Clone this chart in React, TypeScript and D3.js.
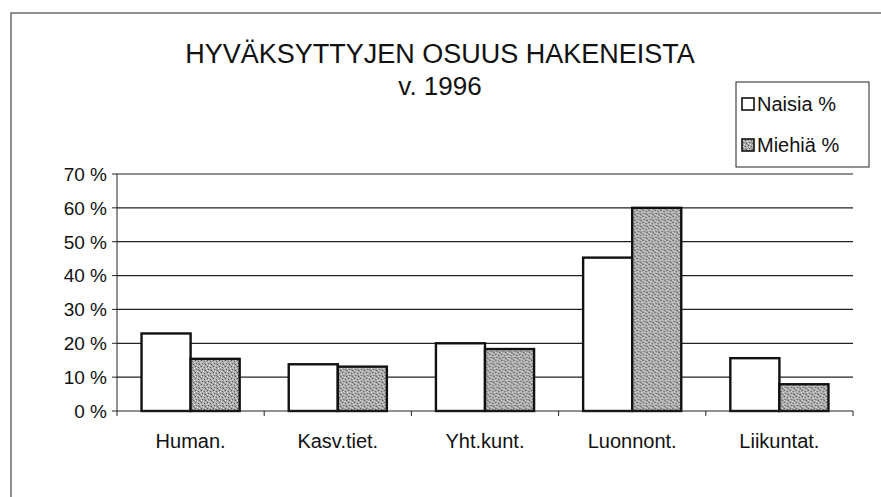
import React from "react";
import * as d3 from "d3";

const categories = ["Human.", "Kasv.tiet.", "Yht.kunt.", "Luonnont.", "Liikuntat."];
const seriesNames = ["Naisia %", "Miehiä %"];
const naisia = [22.9, 13.8, 20.0, 45.3, 15.6];
const miehia = [15.4, 13.1, 18.3, 60.0, 7.9];
const yTicks = [0, 10, 20, 30, 40, 50, 60, 70];

const W = 881;
const H = 497;
const plot = { left: 117, right: 853, top: 174, bottom: 411 };
const FONT = "'Liberation Sans', Arial, Helvetica, sans-serif";

// speckled grey like the scanned dither of the original
const speckle: [number, number, string][] = [
  [0, 0, "#555555"], [3, 1, "#666666"], [1, 3, "#6c6c6c"], [4, 4, "#5a5a5a"],
  [2, 5, "#e8e8e8"], [5, 2, "#ececec"], [1, 1, "#dcdcdc"], [4, 0, "#d8d8d8"],
  [0, 4, "#e2e2e2"], [3, 3, "#888888"], [5, 5, "#8c8c8c"], [2, 2, "#c4c4c4"],
];

export default function App() {
  const x0 = d3.scaleBand<string>().domain(categories).range([plot.left, plot.right]).padding(0);
  const x1 = d3
    .scaleBand<string>()
    .domain(seriesNames)
    .range([0, x0.bandwidth()])
    .paddingInner(0)
    .paddingOuter(0.5);
  const y = d3.scaleLinear().domain([0, 70]).range([plot.bottom, plot.top]);

  const rows = categories.map((c, i) => ({ cat: c, vals: [naisia[i], miehia[i]] }));
  const fills = ["#ffffff", "url(#stipple)"];
  const boundaries = categories.map((c) => x0(c) as number).concat([plot.right]);

  return (
    <svg
      width={W}
      height={H}
      style={{ position: "absolute", left: 0, top: 0, background: "#fff" }}
      fontFamily={FONT}
    >
      <defs>
        <pattern id="stipple" width="6" height="6" patternUnits="userSpaceOnUse">
          <rect width="6" height="6" fill="#a8a8a8" />
          {speckle.map(([px, py, c], i) => (
            <rect key={i} x={px} y={py} width="1" height="1" fill={c} />
          ))}
        </pattern>
      </defs>

      {/* outer chart frame */}
      <rect x={11} y={13} width={W} height={H} fill="none" stroke="#222" strokeWidth={1} />

      <text x={440} y={63} textAnchor="middle" fontSize={27} fill="#111">
        HYVÄKSYTTYJEN OSUUS HAKENEISTA
      </text>
      <text x={440} y={95} textAnchor="middle" fontSize={26} fill="#111">
        v. 1996
      </text>

      {/* gridlines + y ticks */}
      {yTicks.map((t) => (
        <g key={t}>
          {t > 0 && (
            <line x1={plot.left} x2={plot.right} y1={y(t)} y2={y(t)} stroke="#222" strokeWidth={1.2} />
          )}
          <line x1={plot.left - 5} x2={plot.left} y1={y(t)} y2={y(t)} stroke="#222" strokeWidth={1} />
          <text x={107} y={y(t)} dy="0.36em" textAnchor="end" fontSize={19} fill="#111">
            {t} %
          </text>
        </g>
      ))}

      {/* bars */}
      {rows.map((r) => (
        <g key={r.cat} transform={`translate(${x0(r.cat)},0)`}>
          {r.vals.map((v, j) => (
            <rect
              key={j}
              x={x1(seriesNames[j])}
              y={y(v)}
              width={x1.bandwidth()}
              height={y(0) - y(v)}
              fill={fills[j]}
              stroke="#111"
              strokeWidth={2.4}
            />
          ))}
        </g>
      ))}

      {/* axes */}
      <line x1={plot.left} x2={plot.left} y1={plot.top} y2={plot.bottom} stroke="#222" strokeWidth={1} />
      <line x1={plot.left} x2={plot.right} y1={plot.bottom} y2={plot.bottom} stroke="#222" strokeWidth={1} />
      {boundaries.map((b, i) => (
        <line key={i} x1={b} x2={b} y1={plot.bottom} y2={plot.bottom + 5} stroke="#222" strokeWidth={1} />
      ))}
      {categories.map((c) => (
        <text
          key={c}
          x={(x0(c) as number) + x0.bandwidth() / 2}
          y={448}
          textAnchor="middle"
          fontSize={20}
          fill="#111"
        >
          {c}
        </text>
      ))}

      {/* legend */}
      <g>
        <rect x={736} y={82} width={133} height={85} fill="#fff" stroke="#222" strokeWidth={1} />
        {seriesNames.map((s, i) => (
          <g key={s} transform={`translate(742,${104 + i * 41})`}>
            <rect x={0} y={-6} width={12} height={12} fill={fills[i]} stroke="#111" strokeWidth={1.6} />
            <text x={15} y={0} dy="0.36em" fontSize={20} fill="#111">
              {s}
            </text>
          </g>
        ))}
      </g>
    </svg>
  );
}
